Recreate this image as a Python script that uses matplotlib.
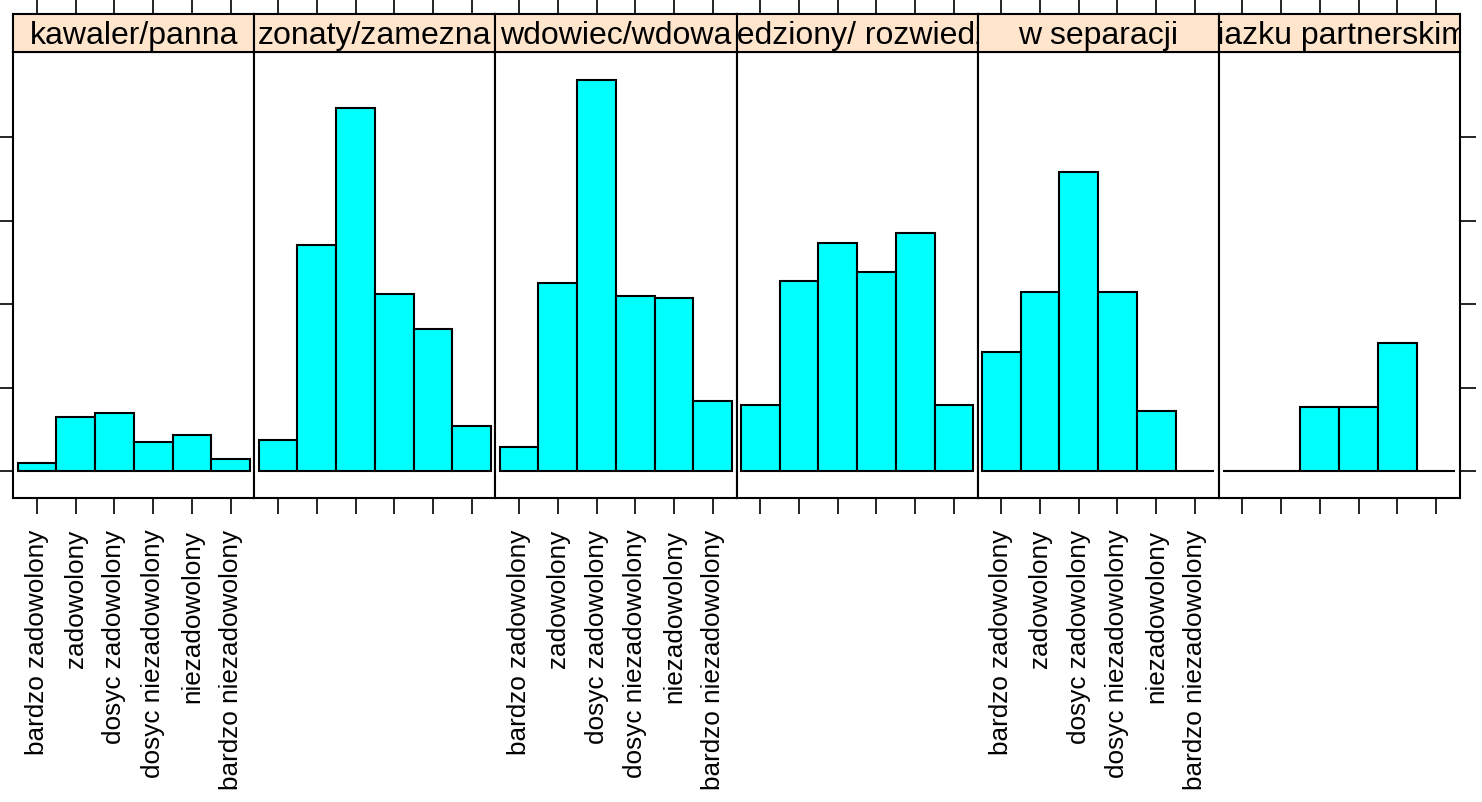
import matplotlib

matplotlib.use("Agg")
import matplotlib.pyplot as plt
import numpy as np

plt.rcParams["font.family"] = ["Liberation Sans", "DejaVu Sans"]

# poziomy zadowolenia (os x w kazdym panelu)
categories = [
    "bardzo zadowolony",
    "zadowolony",
    "dosyc zadowolony",
    "dosyc niezadowolony",
    "niezadowolony",
    "bardzo niezadowolony",
]

# stan cywilny (panele)
groups = [
    "kawaler/panna",
    "zonaty/zamezna",
    "wdowiec/wdowa",
    "rozwiedziony/ rozwiedziona",
    "w separacji",
    "w zwiazku partnerskim",
]

# wysokosci slupkow
kawaler = [0.96, 6.55, 6.98, 3.5, 4.31, 1.44]
zonaty = [3.68, 27.1, 43.5, 21.2, 17.0, 5.47]
wdowiec = [2.84, 22.5, 46.8, 21.0, 20.7, 8.35]
rozwiedziony = [7.9, 22.8, 27.3, 23.9, 28.5, 7.9]
separacja = [14.3, 21.5, 35.8, 21.5, 7.15, 0.0]
partnerski = [0.0, 0.0, 7.66, 7.66, 15.3, 0.0]

values = [kawaler, zonaty, wdowiec, rozwiedziony, separacja, partnerski]
yticks = [0, 10, 20, 30, 40]

W, H = 1482, 803
fig = plt.figure(figsize=(W / 100, H / 100), dpi=100)

left_px, right_px = 13.3, 1459.7
body_top, body_bot = 53.3, 499.0
strip_top = 15.0
pw = (right_px - left_px) / 6
x = np.arange(1, 7)

for i, (grp, vals) in enumerate(zip(groups, values)):
    x0 = left_px + i * pw
    ax = fig.add_axes([x0 / W, 1 - body_bot / H, pw / W, (body_bot - body_top) / H])
    ax_s = fig.add_axes([x0 / W, 1 - body_top / H, pw / W, (body_top - strip_top) / H],
                        sharex=ax)

    ax.bar(x, vals, width=1.0, color="#00FFFF", edgecolor="black", linewidth=1.5)
    ax.set_xlim(0.39, 6.61)
    ax.set_ylim(-3.21, 50.17)
    ax.set_xticks(x)
    ax.set_yticks(yticks)
    for sp in ax.spines.values():
        sp.set_linewidth(1.5)

    ax.tick_params(axis="x", direction="out", length=11.5, width=1.2, pad=10.5,
                   labelsize=18.8, labelrotation=90)
    if i % 2 == 0:
        ax.set_xticklabels(categories)
    else:
        ax.set_xticklabels([])

    ax.tick_params(axis="y", direction="out", width=1.2, labelleft=False,
                   left=(i == 0), right=(i == 5), length=11.5)

    # pasek z nazwa grupy
    ax_s.set_facecolor("#FFE5CC")
    ax_s.set_ylim(0, 1)
    for sp in ax_s.spines.values():
        sp.set_linewidth(1.5)
    ax_s.tick_params(axis="x", bottom=False, labelbottom=False, top=True,
                     direction="out", length=11.5, width=1.2, labeltop=False)
    ax_s.tick_params(axis="y", left=False, labelleft=False)
    if i == 5:
        ax_s.text(-0.302, 0.45, grp, transform=ax_s.transAxes, ha="left",
                  va="center", fontsize=23, clip_on=True)
    else:
        ax_s.text(0.5, 0.45, grp, transform=ax_s.transAxes, ha="center",
                  va="center", fontsize=23, clip_on=True)

fig.savefig("out.png", dpi=100)
